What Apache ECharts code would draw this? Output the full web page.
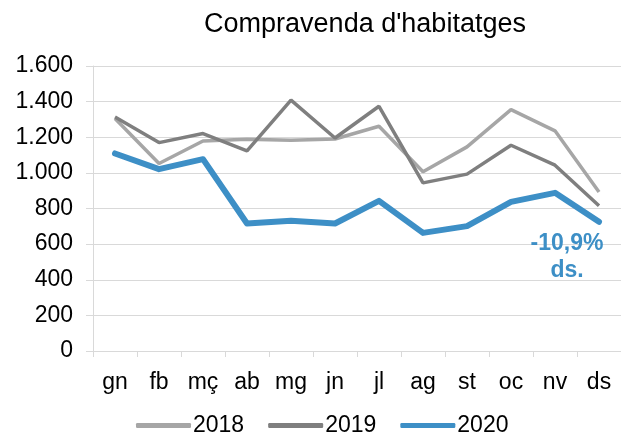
<!DOCTYPE html>
<html>
<head>
<meta charset="utf-8">
<script src="https://cdn.jsdelivr.net/npm/echarts@6/dist/echarts.min.js"></script>
<style>
  html, body { margin: 0; padding: 0; background: #fff; }
  #chart { width: 621px; height: 435px; }
</style>
</head>
<body>
<div id="chart"></div>
<script>
// mesos
const months = ['gn', 'fb', 'mç', 'ab', 'mg', 'jn', 'jl', 'ag', 'st', 'oc', 'nv', 'ds']
const y2018 = [1305, 1053, 1179, 1189, 1183, 1190, 1262, 1006, 1146, 1355, 1236, 893]
const y2019 = [1314, 1170, 1221, 1123, 1408, 1196, 1374, 944, 993, 1155, 1043, 815]
const y2020 = [1109, 1021, 1077, 716, 731, 716, 843, 663, 701, 837, 888, 725]
const yTicks = [0, 200, 400, 600, 800, 1000, 1200, 1400, 1600]
const note = '-10,9%\nds.'

const font = 'Liberation Sans, Arial, sans-serif'

let chart = echarts.init(document.getElementById('chart'))

let last2020 = y2020.map((v, i) => {
  if (i < y2020.length - 1) return v
  return {
    value: v,
    label: {
      show: true,
      position: 'bottom',
      offset: [-32, 3],
      formatter: note,
      color: '#3d8fc6',
      fontFamily: font,
      fontWeight: 'bold',
      fontSize: 23,
      lineHeight: 27,
      align: 'center'
    }
  }
})

let option = {
  animation: false,
  title: {
    text: "Compravenda d'habitatges",
    left: 360,
    textAlign: 'center',
    top: 6,
    textStyle: { fontFamily: font, fontWeight: 'normal', fontSize: 27, color: '#000' }
  },
  legend: {
    bottom: -7,
    left: 131,
    itemWidth: 55,
    itemHeight: 5,
    itemGap: 24,
    icon: 'roundRect',
    textStyle: { fontFamily: font, fontSize: 23, color: '#000', padding: [0, 0, 0, -3] },
    data: ['2018', '2019', '2020']
  },
  grid: { left: 93, right: -4, top: 66, bottom: 84, containLabel: false },
  xAxis: {
    type: 'category',
    data: months,
    boundaryGap: true,
    axisLine: { lineStyle: { color: '#d9d9d9', width: 1 } },
    axisTick: { show: true, length: 6, lineStyle: { color: '#d9d9d9' } },
    axisLabel: { color: '#000', fontFamily: font, fontSize: 23, margin: 20 }
  },
  yAxis: {
    type: 'value',
    min: yTicks[0],
    max: yTicks[yTicks.length - 1],
    interval: 200,
    axisLine: { show: true, lineStyle: { color: '#d9d9d9', width: 1 } },
    axisTick: { show: true, length: 7, lineStyle: { color: '#d9d9d9' } },
    splitLine: { lineStyle: { color: '#d9d9d9', width: 1 } },
    axisLabel: {
      color: '#000',
      fontFamily: font,
      fontSize: 23,
      margin: 20,
      formatter: v => String(v).replace(/\B(?=(\d{3})+(?!\d))/g, '.')
    }
  },
  series: [
    {
      name: '2018', type: 'line', data: y2018, showSymbol: false, symbol: 'none',
      itemStyle: { color: '#a6a6a6' },
      lineStyle: { color: '#a6a6a6', width: 3.5 }
    },
    {
      name: '2019', type: 'line', data: y2019, showSymbol: false, symbol: 'none',
      itemStyle: { color: '#7f7f7f' },
      lineStyle: { color: '#7f7f7f', width: 3.5 }
    },
    {
      name: '2020', type: 'line', data: last2020, showSymbol: true, symbol: 'circle', symbolSize: 0,
      itemStyle: { color: '#3d8fc6' },
      lineStyle: { color: '#3d8fc6', width: 6, join: 'round', cap: 'round' }
    }
  ]
}

chart.setOption(option)
</script>
</body>
</html>
